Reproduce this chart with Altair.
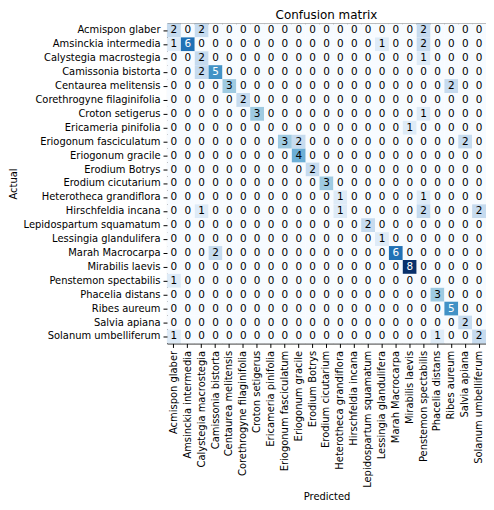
import altair as alt
import pandas as pd

classes = [
    "Acmispon glaber", "Amsinckia intermedia", "Calystegia macrostegia",
    "Camissonia bistorta", "Centaurea melitensis", "Corethrogyne filaginifolia",
    "Croton setigerus", "Ericameria pinifolia", "Eriogonum fasciculatum",
    "Eriogonum gracile", "Erodium Botrys", "Erodium cicutarium",
    "Heterotheca grandiflora", "Hirschfeldia incana", "Lepidospartum squamatum",
    "Lessingia glandulifera", "Marah Macrocarpa", "Mirabilis laevis",
    "Penstemon spectabilis", "Phacelia distans", "Ribes aureum",
    "Salvia apiana", "Solanum umbelliferum",
]

row_00 = [2, 0, 2, 0, 0, 0, 0, 0, 0, 0, 0, 0, 0, 0, 0, 0, 0, 0, 2, 0, 0, 0, 0]
row_01 = [1, 6, 0, 0, 0, 0, 0, 0, 0, 0, 0, 0, 0, 0, 0, 1, 0, 0, 2, 0, 0, 0, 0]
row_02 = [0, 0, 2, 0, 0, 0, 0, 0, 0, 0, 0, 0, 0, 0, 0, 0, 0, 0, 1, 0, 0, 0, 0]
row_03 = [0, 0, 2, 5, 0, 0, 0, 0, 0, 0, 0, 0, 0, 0, 0, 0, 0, 0, 0, 0, 0, 0, 0]
row_04 = [0, 0, 0, 0, 3, 0, 0, 0, 0, 0, 0, 0, 0, 0, 0, 0, 0, 0, 0, 0, 2, 0, 0]
row_05 = [0, 0, 0, 0, 0, 2, 0, 0, 0, 0, 0, 0, 0, 0, 0, 0, 0, 0, 0, 0, 0, 0, 0]
row_06 = [0, 0, 0, 0, 0, 0, 3, 0, 0, 0, 0, 0, 0, 0, 0, 0, 0, 0, 1, 0, 0, 0, 0]
row_07 = [0, 0, 0, 0, 0, 0, 0, 0, 0, 0, 0, 0, 0, 0, 0, 0, 0, 1, 0, 0, 0, 0, 0]
row_08 = [0, 0, 0, 0, 0, 0, 0, 0, 3, 2, 0, 0, 0, 0, 0, 0, 0, 0, 0, 0, 0, 2, 0]
row_09 = [0, 0, 0, 0, 0, 0, 0, 0, 0, 4, 0, 0, 0, 0, 0, 0, 0, 0, 0, 0, 0, 0, 0]
row_10 = [0, 0, 0, 0, 0, 0, 0, 0, 0, 0, 2, 0, 0, 0, 0, 0, 0, 0, 0, 0, 0, 0, 0]
row_11 = [0, 0, 0, 0, 0, 0, 0, 0, 0, 0, 0, 3, 0, 0, 0, 0, 0, 0, 0, 0, 0, 0, 0]
row_12 = [0, 0, 0, 0, 0, 0, 0, 0, 0, 0, 0, 0, 1, 0, 0, 0, 0, 0, 1, 0, 0, 0, 0]
row_13 = [0, 0, 1, 0, 0, 0, 0, 0, 0, 0, 0, 0, 1, 0, 0, 0, 0, 0, 2, 0, 0, 0, 2]
row_14 = [0, 0, 0, 0, 0, 0, 0, 0, 0, 0, 0, 0, 0, 0, 2, 0, 0, 0, 0, 0, 0, 0, 0]
row_15 = [0, 0, 0, 0, 0, 0, 0, 0, 0, 0, 0, 0, 0, 0, 0, 1, 0, 0, 0, 0, 0, 0, 0]
row_16 = [0, 0, 0, 2, 0, 0, 0, 0, 0, 0, 0, 0, 0, 0, 0, 0, 6, 0, 0, 0, 0, 0, 0]
row_17 = [0, 0, 0, 0, 0, 0, 0, 0, 0, 0, 0, 0, 0, 0, 0, 0, 0, 8, 0, 0, 0, 0, 0]
row_18 = [1, 0, 0, 0, 0, 0, 0, 0, 0, 0, 0, 0, 0, 0, 0, 0, 0, 0, 0, 0, 0, 0, 0]
row_19 = [0, 0, 0, 0, 0, 0, 0, 0, 0, 0, 0, 0, 0, 0, 0, 0, 0, 0, 0, 3, 0, 0, 0]
row_20 = [0, 0, 0, 0, 0, 0, 0, 0, 0, 0, 0, 0, 0, 0, 0, 0, 0, 0, 0, 0, 5, 0, 0]
row_21 = [0, 0, 0, 0, 0, 0, 0, 0, 0, 0, 0, 0, 0, 0, 0, 0, 0, 0, 0, 0, 0, 2, 0]
row_22 = [1, 0, 0, 0, 0, 0, 0, 0, 0, 0, 0, 0, 0, 0, 0, 0, 0, 0, 0, 1, 0, 0, 2]

matrix = [row_00, row_01, row_02, row_03, row_04, row_05, row_06, row_07,
          row_08, row_09, row_10, row_11, row_12, row_13, row_14, row_15,
          row_16, row_17, row_18, row_19, row_20, row_21, row_22]

blues = ["#f7fbff", "#deebf7", "#c6dbef", "#9ecae1", "#6baed6",
         "#4292c6", "#2171b5", "#08519c", "#08306b"]

records = []
for i, actual in enumerate(classes):
    for j, pred in enumerate(classes):
        records.append({"Actual": actual, "Predicted": pred, "count": matrix[i][j]})
df = pd.DataFrame(records)

FONT = "DejaVu Sans"

base = alt.Chart(df).encode(
    x=alt.X("Predicted:N", sort=classes, title="Predicted",
            scale=alt.Scale(paddingInner=0, paddingOuter=0),
            axis=alt.Axis(labelAngle=270, tickSize=4, labelPadding=3,
                          titlePadding=4)),
    y=alt.Y("Actual:N", sort=classes, title="Actual",
            scale=alt.Scale(paddingInner=0, paddingOuter=0),
            axis=alt.Axis(tickSize=4, labelPadding=3, titlePadding=4)),
)

rect = base.mark_rect().encode(
    color=alt.Color("count:Q", legend=None,
                    scale=alt.Scale(domain=list(range(9)), range=blues)),
)

text = base.mark_text(font=FONT, fontSize=10.5).encode(
    text="count:Q",
    color=alt.condition("datum.count > 4", alt.value("white"), alt.value("black")),
)

chart = (rect + text).properties(
    width=321, height=322,
    title=alt.TitleParams("Confusion matrix", font=FONT, fontSize=12,
                          fontWeight="normal", color="black", offset=1),
    padding={"top": 0, "left": 0, "right": 0, "bottom": 0},
).configure_view(
    stroke="black", strokeWidth=1
).configure_axis(
    labelFont=FONT, labelFontSize=10, labelColor="black",
    titleFont=FONT, titleFontSize=10, titleFontWeight="normal", titleColor="black",
    tickColor="black", tickWidth=1, domain=False, grid=False,
)

chart.save("out.html", embed_options={"renderer": "svg", "actions": False})
